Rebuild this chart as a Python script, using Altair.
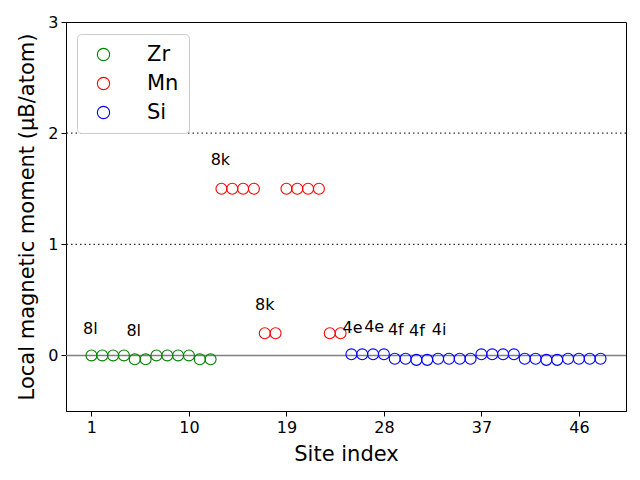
import altair as alt
import pandas as pd

zr_sites = list(range(1, 13))
zr_vals = [0.0, 0.0, 0.0, 0.0, -0.035, -0.035, 0.0, 0.0, 0.0, 0.0, -0.035, -0.035]
mn_sites = list(range(13, 25))
mn_vals = [1.5, 1.5, 1.5, 1.5, 0.2, 0.2, 1.5, 1.5, 1.5, 1.5, 0.2, 0.2]
si_sites = list(range(25, 49))
si_vals = [0.01, 0.01, 0.01, 0.01, -0.03, -0.03, -0.04, -0.04, -0.03, -0.03, -0.03, -0.03,
           0.01, 0.01, 0.01, 0.01, -0.03, -0.03, -0.04, -0.04, -0.03, -0.03, -0.03, -0.03]

label_text = ["8l", "8l", "8k", "8k", "4e", "4e", "4f", "4f", "4i"]
label_x = [0.9, 4.9, 12.9, 17.0, 25.1, 27.1, 29.1, 31.05, 33.1]
label_y = [0.24, 0.22, 1.76, 0.45, 0.25, 0.26, 0.225, 0.216, 0.225]

x_ticks = [1, 10, 19, 28, 37, 46]
y_ticks = [0, 1, 2, 3]
species = ["Zr", "Mn", "Si"]
colors = ["green", "#ff0000", "#0000ff"]

df = pd.DataFrame({
    "site": zr_sites + mn_sites + si_sites,
    "moment": zr_vals + mn_vals + si_vals,
    "species": ["Zr"] * len(zr_sites) + ["Mn"] * len(mn_sites) + ["Si"] * len(si_sites),
})
labels = pd.DataFrame({"x": label_x, "y": label_y, "t": label_text})

xs = alt.Scale(domain=[-1.35, 50.35], nice=False, zero=False)
ys = alt.Scale(domain=[-0.5, 3], nice=False, zero=False)

dotted = alt.Chart(pd.DataFrame({"y": [1, 2]})).mark_rule(
    color="#333333", strokeDash=[1.5, 3], strokeWidth=1.3
).encode(y=alt.Y("y:Q", scale=ys))

zero = alt.Chart(pd.DataFrame({"y": [0]})).mark_rule(
    color="gray", strokeWidth=1.5
).encode(y=alt.Y("y:Q", scale=ys))

points = alt.Chart(df).mark_point(
    shape="circle", filled=False, size=120, strokeWidth=1.1, opacity=1
).encode(
    x=alt.X("site:Q", scale=xs,
            axis=alt.Axis(values=x_ticks, format="d", title="Site index", titlePadding=8)),
    y=alt.Y("moment:Q", scale=ys,
            axis=alt.Axis(values=y_ticks, format="d", title="Local magnetic moment (μB/atom)",
                          titlePadding=10)),
    color=alt.Color("species:N", scale=alt.Scale(domain=species, range=colors),
                    legend=alt.Legend(
                        title=None, orient="none", legendX=11, legendY=12,
                        labelFontSize=21, symbolSize=150, symbolStrokeWidth=1.1,
                        symbolType="circle", symbolFillColor="transparent",
                        strokeColor="#cccccc", cornerRadius=4, fillColor="white",
                        padding=10, rowPadding=7, labelOffset=33, symbolOffset=6,
                    )),
)

text = alt.Chart(labels).mark_text(fontSize=16, color="black", font="DejaVu Sans").encode(
    x=alt.X("x:Q", scale=xs), y=alt.Y("y:Q", scale=ys), text="t:N"
)

chart = alt.layer(dotted, zero, points, text).properties(
    width=560, height=389,
    autosize=alt.AutoSizeParams(type="none"),
    padding={"left": 58, "top": 14, "right": 6, "bottom": 58},
).configure_view(stroke="black", strokeWidth=1).configure_axis(
    grid=False, labelFontSize=16, titleFontSize=21, titleFontWeight="normal",
    labelFont="DejaVu Sans", titleFont="DejaVu Sans", labelColor="black",
    titleColor="black", domainColor="black", tickColor="black", tickSize=5,
    labelPadding=3,
).configure_legend(labelFont="DejaVu Sans", labelColor="black")

chart.save("out.html", embed_options={"renderer": "svg", "actions": False})
